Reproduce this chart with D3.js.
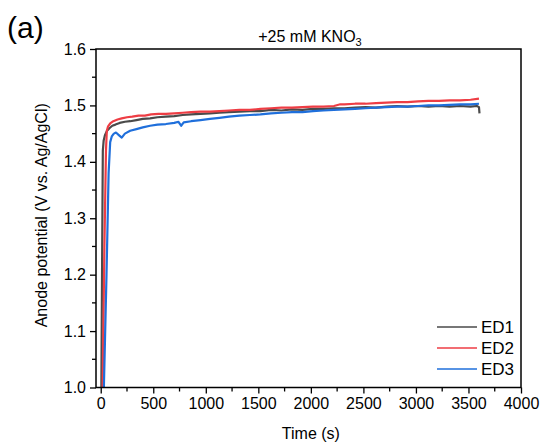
<!DOCTYPE html>
<html>
<head>
<meta charset="utf-8">
<script src="https://cdn.jsdelivr.net/npm/d3@7"></script>
<style>
	body { margin: 0; background: #fff; overflow: hidden; }
	svg { display: block; }
	text { font-family: "Liberation Sans", Arial, sans-serif; fill: #000; }
</style>
</head>
<body>
<svg id="chart"></svg>
<script>
const w = 544
const h = 444
const margin = { left: 96, top: 49, right: 23, bottom: 56.5 }

// time (s) and anode potential (V)
const ed1T = [6, 14, 20, 28, 40, 60, 85, 110, 140, 180, 230, 280, 340, 400, 470, 540, 620, 700, 780, 860, 950, 1040, 1130, 1220, 1320, 1420, 1520, 1620, 1720, 1820, 1920, 2020, 2120, 2220, 2320, 2420, 2520, 2620, 2720, 2820, 2920, 3020, 3120, 3220, 3320, 3420, 3520, 3580, 3600, 3605]
const ed1V = [1.00, 1.25, 1.42, 1.438, 1.447, 1.455, 1.460, 1.464, 1.466, 1.469, 1.471, 1.472, 1.474, 1.476, 1.477, 1.479, 1.480, 1.481, 1.483, 1.484, 1.485, 1.486, 1.487, 1.488, 1.489, 1.490, 1.490, 1.492, 1.491, 1.493, 1.492, 1.494, 1.494, 1.495, 1.495, 1.496, 1.497, 1.496, 1.498, 1.499, 1.498, 1.499, 1.498, 1.499, 1.498, 1.499, 1.498, 1.499, 1.497, 1.486]

const ed2T = [18, 35, 50, 58, 70, 90, 120, 160, 200, 250, 300, 360, 420, 480, 550, 620, 700, 780, 860, 950, 1040, 1130, 1220, 1320, 1420, 1520, 1620, 1720, 1820, 1920, 2020, 2120, 2220, 2280, 2320, 2420, 2520, 2620, 2720, 2820, 2920, 3020, 3120, 3220, 3320, 3420, 3520, 3600]
const ed2V = [1.00, 1.25, 1.42, 1.455, 1.463, 1.468, 1.472, 1.475, 1.477, 1.479, 1.480, 1.482, 1.482, 1.484, 1.485, 1.485, 1.486, 1.487, 1.488, 1.489, 1.489, 1.490, 1.491, 1.492, 1.492, 1.494, 1.495, 1.496, 1.496, 1.497, 1.498, 1.498, 1.499, 1.502, 1.502, 1.503, 1.503, 1.504, 1.505, 1.506, 1.506, 1.507, 1.508, 1.508, 1.509, 1.509, 1.510, 1.512]

const ed3T = [30, 55, 75, 90, 105, 125, 145, 175, 200, 230, 280, 340, 400, 470, 540, 620, 700, 740, 765, 790, 860, 950, 1040, 1130, 1220, 1320, 1420, 1520, 1620, 1720, 1820, 1920, 2020, 2120, 2220, 2320, 2420, 2520, 2620, 2720, 2820, 2920, 3020, 3120, 3220, 3320, 3420, 3520, 3600]
const ed3V = [1.00, 1.20, 1.38, 1.435, 1.445, 1.450, 1.452, 1.447, 1.443, 1.450, 1.455, 1.458, 1.461, 1.464, 1.466, 1.467, 1.469, 1.471, 1.464, 1.470, 1.472, 1.474, 1.476, 1.478, 1.480, 1.482, 1.483, 1.484, 1.486, 1.487, 1.488, 1.488, 1.490, 1.491, 1.492, 1.493, 1.494, 1.495, 1.496, 1.497, 1.498, 1.498, 1.499, 1.500, 1.500, 1.501, 1.502, 1.502, 1.503]

const seriesNames = ['ED1', 'ED2', 'ED3']
const seriesColors = ['#4a4a4a', '#ee3d44', '#1f6fdb']
const xTicks = [0, 500, 1000, 1500, 2000, 2500, 3000, 3500, 4000]
const yTicks = [1.0, 1.1, 1.2, 1.3, 1.4, 1.5, 1.6]

const series = [
	{ name: seriesNames[0], color: seriesColors[0], t: ed1T, v: ed1V },
	{ name: seriesNames[1], color: seriesColors[1], t: ed2T, v: ed2V },
	{ name: seriesNames[2], color: seriesColors[2], t: ed3T, v: ed3V }
]

const innerWidth = w - margin.left - margin.right
const innerHeight = h - margin.top - margin.bottom

const SVG = d3.select('#chart').attr('width', w).attr('height', h)

const xScale = d3.scaleLinear().domain([-45, 4000]).range([0, innerWidth])
const yScale = d3.scaleLinear().domain([1.0, 1.6]).range([innerHeight, 0])

SVG.append('defs').append('clipPath').attr('id', 'clip')
	.append('rect').attr('width', innerWidth).attr('height', innerHeight)

const inner = SVG.append('g').attr('transform', `translate(${margin.left}, ${margin.top})`)

// lines
const line = d3.line()
	.x(d => xScale(d[0]))
	.y(d => yScale(d[1]))

inner.append('g').attr('clip-path', 'url(#clip)')
	.selectAll('path').data(series).enter().append('path')
	.attr('d', s => line(s.t.map((t, i) => [t, s.v[i]])))
	.attr('fill', 'none')
	.attr('stroke', s => s.color)
	.attr('stroke-width', 2.2)
	.attr('stroke-linejoin', 'round')

// minor ticks
const xMinor = d3.range(250, 4000, 500)
const yMinor = d3.range(1.05, 1.6, 0.1)

inner.selectAll('.xminor').data(xMinor).enter().append('line')
	.attr('x1', d => xScale(d)).attr('x2', d => xScale(d))
	.attr('y1', innerHeight).attr('y2', innerHeight + 4)
	.attr('stroke', '#000').attr('stroke-width', 1.3)
inner.selectAll('.yminor').data(yMinor).enter().append('line')
	.attr('y1', d => yScale(d)).attr('y2', d => yScale(d))
	.attr('x1', 0).attr('x2', -4)
	.attr('stroke', '#000').attr('stroke-width', 1.3)

// axes
const xAxis = inner.append('g')
	.attr('transform', `translate(0, ${innerHeight})`)
	.call(d3.axisBottom(xScale).tickValues(xTicks).tickFormat(d3.format('d')).tickSize(6).tickPadding(4).tickSizeOuter(0))
const yAxis = inner.append('g')
	.call(d3.axisLeft(yScale).tickValues(yTicks).tickFormat(d3.format('.1f')).tickSize(6).tickPadding(4).tickSizeOuter(0))

for (const ax of [xAxis, yAxis]) {
	ax.attr('font-family', null).attr('font-size', null)
	ax.select('.domain').remove()
	ax.selectAll('line').attr('stroke-width', 1.3)
	ax.selectAll('text').attr('font-size', 16)
}

// frame
inner.append('rect')
	.attr('width', innerWidth).attr('height', innerHeight)
	.attr('fill', 'none').attr('stroke', '#000').attr('stroke-width', 1.5)

// legend
const legend = inner.selectAll('.legend').data(series).enter().append('g')
	.attr('transform', (_, i) => `translate(${437 - margin.left}, ${327 - margin.top + i * 21})`)
legend.append('line')
	.attr('x1', 0).attr('x2', 40)
	.attr('stroke', d => d.color).attr('stroke-width', 1.5)
legend.append('text')
	.attr('x', 44).attr('dy', '0.35em')
	.attr('font-size', 17)
	.text(d => d.name)

// titles
const title = SVG.append('text')
	.attr('x', 310).attr('y', 42)
	.attr('text-anchor', 'middle')
	.attr('font-size', 16)
title.append('tspan').text('+25 mM KNO')
title.append('tspan').attr('font-size', 11).attr('dy', 4).text('3')

SVG.append('text')
	.attr('x', 7).attr('y', 38)
	.attr('font-size', 30)
	.text('(a)')

SVG.append('text')
	.attr('transform', `translate(47, ${margin.top + innerHeight / 2 - 3}) rotate(-90)`)
	.attr('text-anchor', 'middle')
	.attr('font-size', 16)
	.text('Anode potential (V vs. Ag/AgCl)')

SVG.append('text')
	.attr('x', margin.left + xScale(2000)).attr('y', 439)
	.attr('text-anchor', 'middle')
	.attr('font-size', 16)
	.text('Time (s)')
</script>
</body>
</html>
